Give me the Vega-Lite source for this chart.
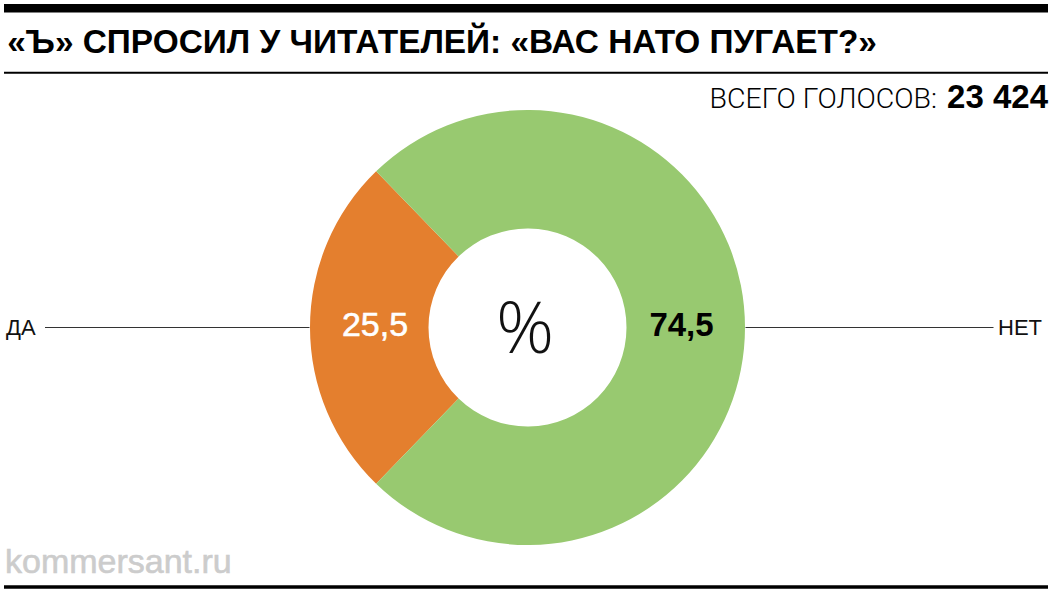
{
  "$schema": "https://vega.github.io/schema/vega-lite/v6.json",
  "width": 1051,
  "height": 535,
  "autosize": {"type": "none"},
  "padding": {"left": 2, "top": 60, "right": 0, "bottom": 0},
  "background": "white",
  "config": {
    "view": {"stroke": null},
    "font": "Liberation Sans",
    "locale": {"number": {"decimal": ",", "thousands": " ", "grouping": [3], "currency": ["", ""]}}
  },
  "data": {"values": [
    {"answer": "ДА", "value": 25.5},
    {"answer": "НЕТ", "value": 74.5}
  ]},
  "layer": [
    {
      "mark": {"type": "arc", "outerRadius": 217.5, "innerRadius": 99},
      "encoding": {
        "theta": {"field": "value", "type": "quantitative", "stack": true, "scale": {"range": [3.9113, 10.1945]}},
        "color": {"field": "answer", "type": "nominal", "scale": {"domain": ["ДА", "НЕТ"], "range": ["#E47F2E", "#98C970"]}, "legend": null},
        "order": {"field": "answer", "sort": "ascending"}
      }
    },
    {
      "mark": {"type": "text", "radius": 152.5, "align": "center", "baseline": "alphabetic", "dy": 8.5, "fontSize": 34, "fontWeight": "normal", "fill": "white", "stroke": "white", "strokeWidth": 0.6},
      "encoding": {
        "theta": {"field": "value", "type": "quantitative", "stack": true, "scale": {"range": [3.9113, 10.1945]}},
        "order": {"field": "answer", "sort": "ascending"},
        "text": {"condition": {"test": "datum.answer === 'ДА'", "field": "value", "type": "quantitative", "format": ".1f"}, "value": ""}
      }
    },
    {
      "mark": {"type": "text", "radius": 154, "align": "center", "baseline": "alphabetic", "dy": 8.5, "fontSize": 33, "fontWeight": "bold", "fill": "black"},
      "encoding": {
        "theta": {"field": "value", "type": "quantitative", "stack": true, "scale": {"range": [3.9113, 10.1945]}},
        "order": {"field": "answer", "sort": "ascending"},
        "text": {"condition": {"test": "datum.answer === 'НЕТ'", "field": "value", "type": "quantitative", "format": ".1f"}, "value": ""}
      }
    },
    {
      "mark": {"type": "text", "radius": 521.5, "align": "left", "baseline": "alphabetic", "dy": 8, "fontSize": 22, "fontWeight": "normal", "fill": "#111"},
      "encoding": {
        "theta": {"field": "value", "type": "quantitative", "stack": true, "scale": {"range": [3.9113, 10.1945]}},
        "order": {"field": "answer", "sort": "ascending"},
        "text": {"condition": {"test": "datum.answer === 'ДА'", "field": "answer"}, "value": ""}
      }
    },
    {
      "mark": {"type": "text", "radius": 514.5, "align": "right", "baseline": "alphabetic", "dy": 7, "fontSize": 22, "fontWeight": "normal", "fill": "#111"},
      "encoding": {
        "theta": {"field": "value", "type": "quantitative", "stack": true, "scale": {"range": [3.9113, 10.1945]}},
        "order": {"field": "answer", "sort": "ascending"},
        "text": {"condition": {"test": "datum.answer === 'НЕТ'", "field": "answer"}, "value": ""}
      }
    },
    {
      "data": {"values": [{"side": "left"}]},
      "mark": {"type": "arc", "filled": false, "stroke": "#333333", "strokeWidth": 1.2},
      "encoding": {
        "theta": {"value": 4.712389},
        "theta2": {"value": 4.712389},
        "radius": {"value": 482.5},
        "radius2": {"value": 218}
      }
    },
    {
      "data": {"values": [{"side": "right"}]},
      "mark": {"type": "arc", "filled": false, "stroke": "#333333", "strokeWidth": 1.2},
      "encoding": {
        "theta": {"value": 1.570796},
        "theta2": {"value": 1.570796},
        "radius": {"value": 466},
        "radius2": {"value": 218}
      }
    },
    {
      "data": {"values": [{"t": "%"}]},
      "mark": {"type": "text", "align": "center", "baseline": "alphabetic", "dx": -2.5, "dy": 25, "fontSize": 72, "font": "Open Sans", "fontWeight": 300, "fill": "#111"},
      "encoding": {"text": {"field": "t"}}
    },
    {
      "data": {"values": [{"t": "«Ъ» СПРОСИЛ У ЧИТАТЕЛЕЙ: «ВАС НАТО ПУГАЕТ?»"}]},
      "mark": {"type": "text", "align": "left", "baseline": "alphabetic", "fontSize": 33.4, "fontWeight": "bold", "fill": "#000"},
      "encoding": {"text": {"field": "t"}, "x": {"value": 5.3}, "y": {"value": -7.5}}
    },
    {
      "data": {"values": [{"t": "ВСЕГО ГОЛОСОВ:"}]},
      "mark": {"type": "text", "align": "right", "baseline": "alphabetic", "fontSize": 28.5, "font": "Roboto", "fontWeight": 300, "fill": "#000"},
      "encoding": {"text": {"field": "t"}, "x": {"value": 935}, "y": {"value": 47.7}}
    },
    {
      "data": {"values": [{"t": "23 424"}]},
      "mark": {"type": "text", "align": "right", "baseline": "alphabetic", "fontSize": 33, "fontWeight": "bold", "fill": "#000"},
      "encoding": {"text": {"field": "t"}, "x": {"value": 1046}, "y": {"value": 47.7}}
    },
    {
      "data": {"values": [{"t": "kommersant.ru"}]},
      "mark": {"type": "text", "align": "left", "baseline": "alphabetic", "fontSize": 34, "fontWeight": "normal", "fill": "#cccccc", "stroke": "#cccccc", "strokeWidth": 0.6},
      "encoding": {"text": {"field": "t"}, "x": {"value": 3}, "y": {"value": 513.3}}
    },
    {
      "data": {"values": [{"r": "top"}]},
      "mark": {"type": "rule", "stroke": "#000", "strokeWidth": 8.5, "strokeCap": "butt"},
      "encoding": {"x": {"value": 2}, "x2": {"value": 1046}, "y": {"value": -51.75}}
    },
    {
      "data": {"values": [{"r": "mid"}]},
      "mark": {"type": "rule", "stroke": "#000", "strokeWidth": 2, "strokeCap": "butt"},
      "encoding": {"x": {"value": 2}, "x2": {"value": 1046}, "y": {"value": 12.8}}
    },
    {
      "data": {"values": [{"r": "bottom"}]},
      "mark": {"type": "rule", "stroke": "#000", "strokeWidth": 3.5, "strokeCap": "butt"},
      "encoding": {"x": {"value": 2}, "x2": {"value": 1046}, "y": {"value": 527}}
    }
  ]
}
